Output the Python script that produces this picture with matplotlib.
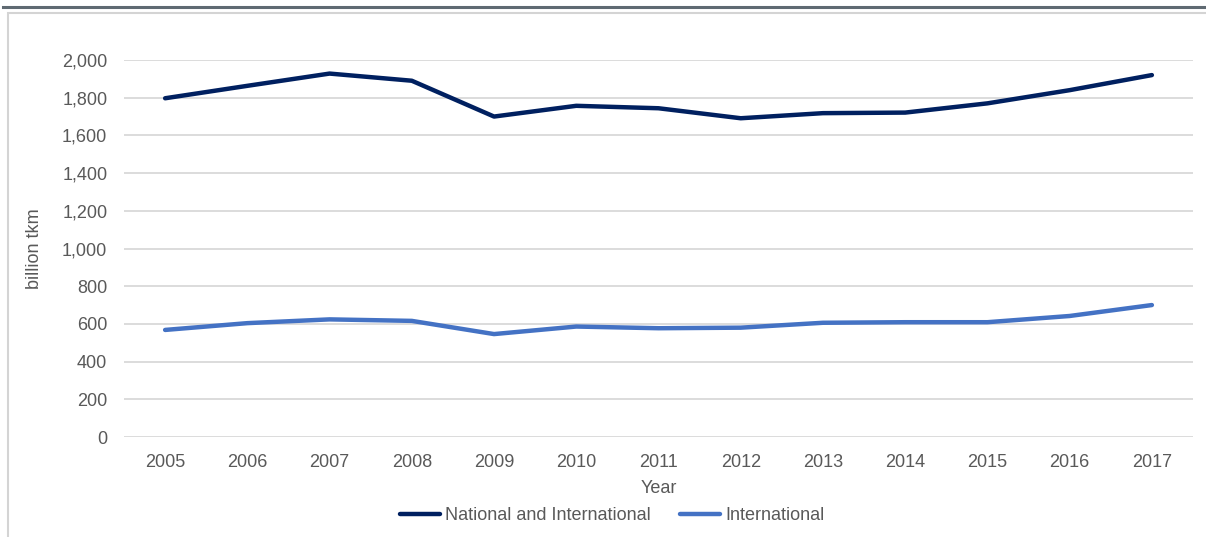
import numpy as np
import matplotlib.pyplot as plt
from matplotlib.lines import Line2D
from matplotlib.patches import Rectangle

# tonne-km by year
years = ['2005', '2006', '2007', '2008', '2009', '2010', '2011',
         '2012', '2013', '2014', '2015', '2016', '2017']
national_intl = [1797, 1863, 1928, 1890, 1700, 1757, 1744,
                 1691, 1718, 1721, 1770, 1840, 1920]
international = [568, 604, 624, 616, 546, 586, 577,
                 580, 606, 609, 609, 642, 700]

plt.rcParams['font.family'] = ['Liberation Sans', 'DejaVu Sans']
txt = '#595959'

fig = plt.figure(figsize=(12.06, 5.37), dpi=100)

# frame around the chart and the dark rule above it
fig.add_artist(Line2D([3 / 1206, 1], [1 - 6.5 / 537] * 2, color='#5f6a72', lw=2.2,
                      transform=fig.transFigure))
fig.add_artist(Rectangle((7.5 / 1206, -0.1), 1.2, 1.1 - 12.5 / 537, fill=False,
                         edgecolor='#d4d4d4', lw=1.5, transform=fig.transFigure))

ax = fig.add_axes([124 / 1206, 1 - 437 / 537, (1193 - 124) / 1206, (437 - 60) / 537])
x = np.arange(len(years))
ax.plot(x, national_intl, color='#002060', lw=3.2, solid_capstyle='round',
        label='National and International')
ax.plot(x, international, color='#4472c4', lw=3.2, solid_capstyle='round',
        label='International')

ax.set_xlim(-0.5, len(years) - 0.5)
ax.set_ylim(0, 2000)
ax.set_yticks(range(0, 2001, 200))
ax.set_yticklabels([f'{v:,}' for v in range(0, 2001, 200)])
ax.set_xticks(x)
ax.set_xticklabels(years)
ax.grid(axis='y', color='#d9d9d9', lw=1.3)
ax.set_axisbelow(True)
for s in ax.spines.values():
    s.set_visible(False)
ax.tick_params(length=0, labelsize=13, labelcolor=txt)
ax.tick_params(axis='y', pad=12)
ax.tick_params(axis='x', pad=12)

ax.set_xlabel('Year', fontsize=13, color=txt, labelpad=7)
ax.set_ylabel('billion tkm', fontsize=13, color=txt, labelpad=14)

fig.legend(*ax.get_legend_handles_labels(), loc='center',
           bbox_to_anchor=(612 / 1206, 1 - 516 / 537), ncol=2, frameon=False,
           fontsize=13, labelcolor=txt, handlelength=2.2, handletextpad=0.28,
           columnspacing=1.65, borderpad=0)

fig.savefig('out.png', dpi=100)
